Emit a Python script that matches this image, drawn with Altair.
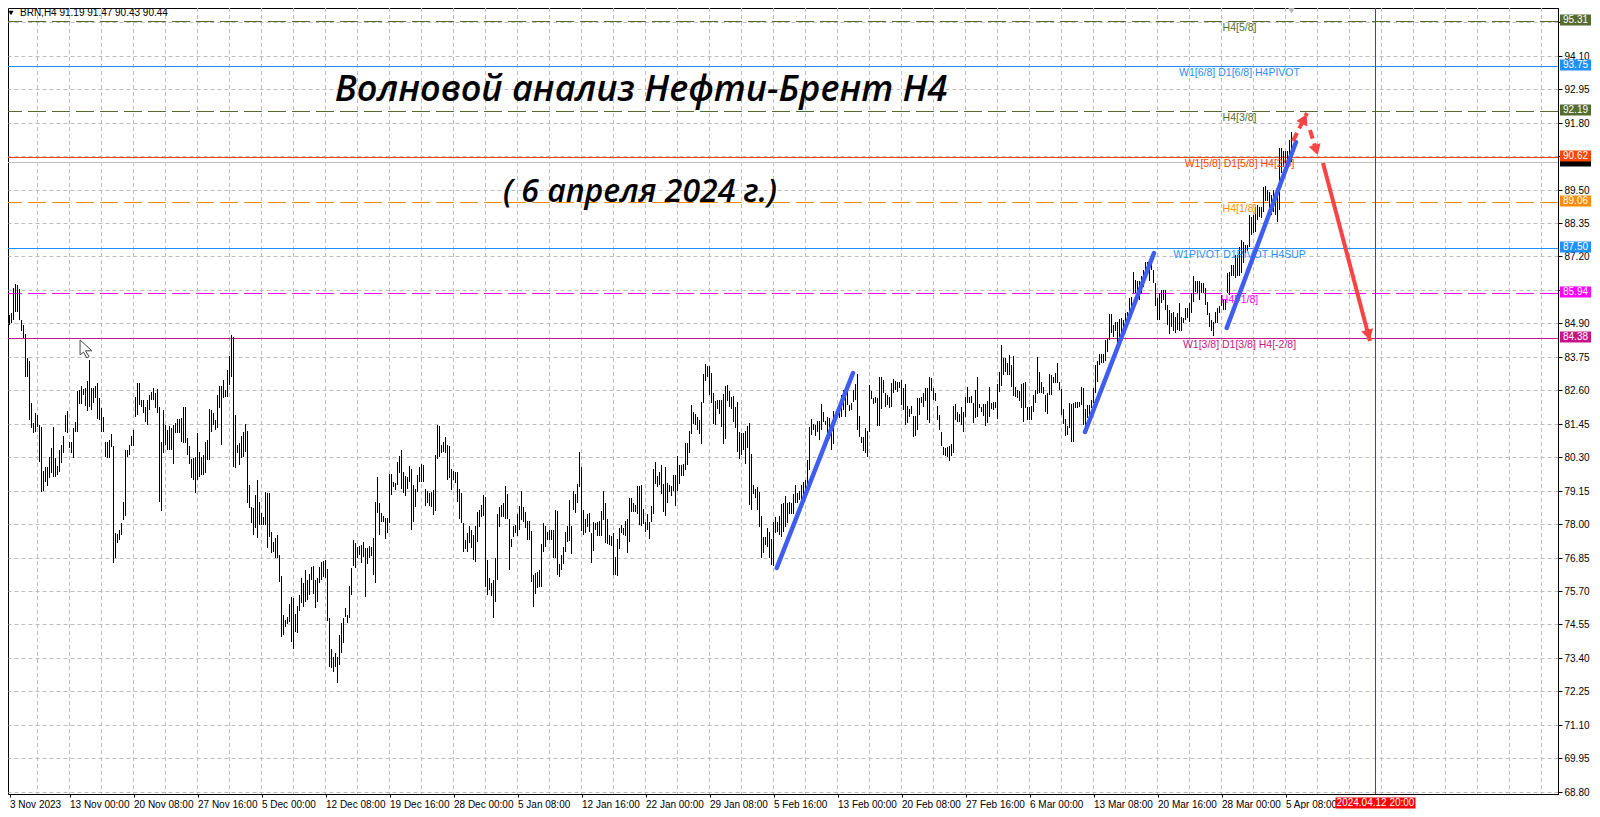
import altair as alt
import pandas as pd

high = [86.70,85.30,85.19,85.25,86.11,86.25,86.22,86.07,85.02,84.85,84.54,83.70,83.61,82.15,81.46,81.81,81.75,81.41,81.35,79.84,
79.97,79.95,80.32,80.61,81.33,80.26,80.00,80.55,80.72,81.03,81.75,81.87,80.83,80.83,81.29,81.52,82.58,82.61,82.75,82.63,
82.67,82.93,83.64,82.67,82.67,82.75,82.86,82.32,81.98,81.69,80.83,80.83,80.89,81.10,80.69,77.68,77.66,77.80,78.03,78.77,
80.55,80.55,80.72,81.01,81.24,82.38,82.84,82.84,82.27,82.27,82.04,82.27,82.44,82.55,82.67,82.50,82.63,82.04,80.83,81.92,
81.41,81.24,81.37,81.29,81.41,81.46,81.60,81.61,81.64,82.04,82.04,80.95,80.69,80.23,80.26,80.32,81.12,80.46,80.32,80.38,
80.83,80.89,81.95,81.92,81.81,81.58,82.44,82.75,82.73,82.95,82.61,83.30,83.76,84.50,84.42,81.75,80.72,80.78,81.01,81.18,
81.44,81.21,79.34,78.60,78.54,79.00,79.51,78.77,78.37,78.25,79.11,79.06,79.06,77.74,77.39,77.51,77.62,76.94,76.21,74.87,
74.70,74.82,75.25,75.48,75.45,74.91,75.18,75.56,76.13,75.99,76.42,76.08,76.28,76.54,76.56,76.08,76.13,76.51,76.71,76.74,
76.76,76.44,74.76,73.69,73.44,73.56,73.44,74.19,74.61,74.76,75.10,74.87,75.87,76.48,77.45,77.34,77.22,77.25,77.28,77.39,
77.17,77.19,77.25,77.22,77.51,78.77,79.61,78.71,78.37,78.28,78.20,78.20,79.72,79.72,79.46,79.42,80.15,80.34,80.56,79.80,
79.65,79.62,79.99,79.88,79.34,79.22,79.68,79.97,80.06,80.03,79.22,79.14,79.07,79.11,79.17,80.37,81.40,81.37,80.71,80.83,
80.98,80.71,80.68,79.88,79.82,79.78,79.78,79.19,79.07,78.02,77.45,77.68,77.93,77.81,77.62,77.93,78.42,78.48,78.65,78.99,
78.94,76.76,76.13,75.96,76.07,76.85,78.36,78.59,78.65,78.73,79.30,79.05,78.19,77.50,77.93,77.96,78.36,78.62,79.14,78.57,
78.42,78.11,78.11,77.76,76.24,76.32,76.36,76.42,77.31,78.02,77.93,77.73,77.81,77.79,77.81,78.50,78.44,76.64,76.93,77.22,
77.73,77.93,78.84,77.93,79.14,79.03,79.39,80.48,79.97,78.48,78.19,78.36,78.39,77.70,78.08,78.02,78.08,78.11,78.44,79.13,
78.73,78.17,77.62,77.58,77.68,76.87,77.48,77.85,77.96,77.85,78.11,78.19,78.90,78.88,78.71,78.67,79.30,79.30,79.34,78.51,
78.08,78.34,78.08,78.62,79.88,80.12,79.65,79.80,80.03,79.36,79.97,79.40,79.34,79.30,79.68,79.68,80.34,80.03,80.03,80.06,
80.77,80.79,81.20,82.09,81.84,81.78,81.69,81.57,82.18,83.15,83.49,83.43,83.44,83.20,82.52,82.23,82.26,82.26,82.26,82.46,
82.75,82.78,82.57,82.38,82.40,82.01,82.20,81.17,81.14,81.14,81.21,81.37,81.46,80.40,79.34,79.19,79.28,79.11,78.27,77.56,
77.56,77.85,77.73,77.47,78.08,78.23,78.08,78.27,78.69,78.71,78.96,78.71,78.77,78.71,79.05,79.34,79.08,79.14,79.34,79.45,
79.51,80.20,81.32,81.60,81.44,81.40,81.55,81.55,82.11,81.86,81.55,81.67,81.63,81.25,81.89,81.75,81.83,81.86,82.43,82.60,
82.38,82.63,82.09,82.15,82.60,82.83,83.15,81.71,81.00,80.98,81.29,81.20,82.78,82.57,82.32,82.38,82.32,83.04,83.04,82.95,
82.49,82.44,82.38,82.84,82.97,82.93,82.89,82.89,82.95,82.66,82.80,82.06,81.94,82.06,81.71,81.71,82.34,82.34,82.38,82.49,
82.66,82.66,83.07,83.01,82.66,82.52,82.06,81.75,81.17,80.66,80.60,80.66,80.68,80.75,82.06,82.13,81.86,81.80,82.03,81.86,
82.38,82.72,82.38,82.40,82.17,82.61,83.04,82.13,82.01,82.13,82.13,82.24,82.72,82.17,82.18,82.21,82.81,83.24,84.15,83.70,
83.70,83.52,83.81,83.47,83.78,82.70,82.61,82.58,82.81,82.84,82.89,82.03,82.01,82.06,82.44,82.61,83.75,83.24,82.89,82.72,
82.44,82.49,83.16,83.12,83.07,83.18,83.52,82.89,82.63,81.94,81.60,81.37,82.15,82.13,82.17,82.21,82.21,82.21,82.72,82.66,
81.94,82.10,82.10,82.27,82.67,83.47,83.59,83.85,83.85,83.85,84.33,84.35,85.22,85.22,84.85,84.96,84.93,85.04,85.08,85.02,
85.27,85.30,85.76,85.82,86.68,86.39,86.34,86.34,86.51,86.74,87.02,87.02,86.91,87.02,86.74,86.28,85.76,85.93,86.05,86.05,
86.05,85.53,85.36,85.27,85.30,85.13,85.25,85.59,85.13,85.08,85.42,85.42,85.59,85.93,86.51,86.34,86.34,86.34,86.28,86.28,
86.11,85.65,85.25,85.00,84.96,85.30,85.42,85.48,85.88,85.71,85.71,86.62,86.68,86.91,86.91,87.25,87.25,87.54,87.77,87.71,
87.60,87.60,88.63,88.57,88.63,88.91,88.97,88.91,88.89,89.60,89.62,89.49,89.43,89.32,89.49,89.14,89.49,90.92,90.92,90.84,
90.84,90.81,91.21,91.47]

low = [84.56,84.39,84.85,84.90,85.02,85.30,85.30,85.02,84.62,84.39,83.07,83.05,81.58,81.29,81.12,81.18,81.35,80.12,79.09,79.14,
79.46,79.31,79.57,79.75,79.63,79.63,79.69,79.80,80.09,80.43,81.18,81.12,80.61,80.43,80.26,81.18,81.18,82.12,82.12,82.44,
82.07,81.87,82.04,81.92,82.15,82.32,81.60,81.58,81.18,81.18,80.32,80.26,80.26,80.66,76.66,76.82,77.34,77.45,77.63,78.14,
78.26,80.32,80.38,80.69,80.69,81.69,81.75,82.09,82.04,81.81,81.52,81.41,81.92,82.27,82.27,81.98,81.81,78.77,78.46,80.43,
80.72,80.55,80.53,80.53,80.07,81.12,81.12,81.12,80.83,80.80,80.78,80.38,80.07,79.57,79.52,79.06,79.52,79.63,79.69,79.69,
79.75,80.20,80.20,81.18,81.41,81.24,81.29,81.98,80.72,82.32,82.36,82.38,82.78,83.07,79.97,79.92,80.43,80.03,80.26,80.32,
80.49,78.71,78.54,78.05,77.62,77.85,77.51,77.97,77.97,77.97,77.97,77.17,77.57,76.99,77.05,76.82,76.82,76.02,74.13,74.19,
74.45,74.56,74.64,73.96,73.69,74.30,74.27,75.02,75.27,75.16,75.33,75.39,75.56,76.08,75.60,75.10,75.33,75.96,76.08,76.19,
76.13,74.68,73.07,73.04,72.93,73.10,72.52,73.15,73.56,73.90,74.82,74.59,74.76,75.56,76.56,76.48,76.82,76.94,76.65,76.88,
75.50,76.63,76.82,76.90,76.25,75.96,78.37,77.62,78.08,78.08,77.47,77.68,78.02,79.00,79.29,79.17,79.34,79.74,79.22,79.07,
78.96,79.22,79.45,77.79,78.08,78.59,79.11,79.45,79.45,79.45,78.62,78.71,78.62,78.59,78.31,78.46,80.22,80.31,80.43,80.48,
80.43,79.53,79.57,79.17,79.51,79.42,78.76,78.19,78.02,77.05,77.13,77.05,77.36,77.16,76.76,76.70,77.39,77.91,78.25,78.27,
75.84,75.56,75.73,75.52,74.78,75.33,76.07,77.91,78.25,78.25,78.19,78.19,76.42,77.22,77.56,77.68,77.58,77.79,78.13,78.08,
77.85,77.45,77.45,76.01,75.15,75.61,75.79,75.82,75.84,77.05,77.22,77.45,77.45,77.45,76.85,76.85,76.24,76.19,76.42,76.64,
77.05,77.39,77.41,76.97,78.48,78.39,78.73,79.26,77.77,77.64,77.68,77.91,77.73,76.67,77.08,77.79,77.60,77.60,77.58,78.13,
77.36,77.33,77.27,77.24,76.24,76.24,76.22,77.13,77.68,77.62,77.58,77.01,77.39,78.42,78.42,78.42,78.36,77.96,77.94,78.00,
77.73,77.79,77.48,78.08,78.36,79.36,79.26,79.34,79.05,78.40,78.28,78.73,79.11,78.97,79.14,78.62,79.14,79.37,79.65,79.65,
79.85,80.03,80.45,81.11,81.44,81.40,81.23,81.09,80.75,82.15,82.93,83.06,82.43,82.15,81.44,81.40,81.94,81.80,81.32,80.75,
80.92,82.24,82.03,81.97,81.52,81.29,80.48,80.22,80.37,80.54,80.08,80.63,78.65,78.48,79.05,78.88,78.48,77.91,76.82,76.99,
77.28,77.22,76.85,76.59,76.55,77.70,77.73,77.62,77.54,77.73,77.91,78.02,78.36,78.36,78.36,78.71,78.71,78.82,78.77,78.94,
79.05,79.22,79.85,81.06,81.23,81.02,81.17,80.89,81.23,81.52,81.40,80.98,80.94,80.54,80.75,81.63,81.67,81.63,81.67,81.92,
81.69,82.09,81.89,81.92,82.20,82.26,81.23,81.00,80.77,80.52,80.45,80.32,81.17,82.29,82.13,82.17,81.38,81.38,81.95,82.49,
82.03,82.09,82.00,82.01,82.52,82.61,82.55,82.66,82.09,81.92,81.40,81.46,81.69,81.78,80.98,81.03,81.23,81.75,82.17,82.03,
82.24,81.58,81.46,82.58,82.26,82.24,81.58,81.23,80.68,80.37,80.34,80.32,80.18,80.34,80.43,81.58,81.52,81.52,81.40,81.17,
81.67,82.17,82.17,82.17,81.46,81.63,81.67,81.98,81.86,81.71,81.37,81.46,81.67,81.94,81.92,81.98,81.60,82.55,82.74,83.12,
83.24,83.12,83.12,82.70,82.40,82.38,82.32,82.24,81.98,81.52,81.98,81.58,81.58,81.58,81.86,82.15,82.47,82.49,82.49,82.47,
81.86,81.80,82.44,82.44,82.84,82.84,82.84,82.61,81.75,81.44,81.03,81.06,81.29,80.83,80.83,81.98,81.98,82.03,82.09,81.40,
81.12,81.64,81.69,81.98,82.15,82.50,82.90,83.47,83.53,83.53,83.59,83.93,84.33,84.56,84.44,84.62,84.22,84.39,84.44,84.67,
84.90,85.08,85.30,85.13,85.93,85.93,85.93,85.71,85.93,86.16,86.51,86.62,86.34,86.74,86.28,85.48,85.02,85.02,85.59,85.71,
85.36,84.85,84.54,84.79,84.62,84.58,84.67,84.62,84.62,84.90,85.02,85.08,84.96,85.25,85.65,85.96,85.93,85.71,85.93,85.93,
85.53,85.19,84.79,84.62,84.47,84.90,84.90,85.25,85.48,85.36,85.36,85.93,85.88,86.51,86.53,86.45,86.51,86.51,86.62,86.97,
87.31,87.37,87.54,87.94,88.00,88.05,88.46,88.55,88.51,88.74,89.09,89.09,88.80,88.63,88.74,88.63,88.40,88.80,90.06,90.29,
90.40,90.23,90.46,90.43]

n = min(len(high), len(low))
bar_index = list(range(n))

price_ticks = [95.25,94.10,92.95,91.80,90.65,89.50,88.35,87.20,86.05,84.90,83.75,82.60,81.45,80.30,79.15,78.00,76.85,75.70,74.55,73.40,72.25,71.10,69.95,68.80]
covered_price_ticks = [95.25,90.65,86.05]
time_ticks = ["3 Nov 2023","13 Nov 00:00","20 Nov 08:00","27 Nov 16:00","5 Dec 00:00","12 Dec 08:00","19 Dec 16:00","28 Dec 00:00","5 Jan 08:00","12 Jan 16:00","22 Jan 00:00","29 Jan 08:00","5 Feb 16:00","13 Feb 00:00","20 Feb 08:00","27 Feb 16:00","6 Mar 00:00","13 Mar 08:00","20 Mar 16:00","28 Mar 00:00","5 Apr 08:00"]
time_tick_pos = [2] + [32*k for k in range(1, len(time_ticks))]
grid_bars = list(range(16, 777, 16))

levels = [95.31,93.75,92.19,90.62,90.44,89.06,87.50,85.94,84.38]
level_col = ["#556B2F","#1E90FF","#556B2F","#FF4500","#C0C0C0","#FF8C00","#1E90FF","#FF00FF","#C71585"]
badge_col = ["#556B2F","#1E90FF","#556B2F","#FF4500","#000000","#FF8C00","#1E90FF","#FF00FF","#C71585"]
level_dash = [True,False,True,False,False,True,False,True,False]
level_text = ["H4[5/8]","W1[6/8] D1[6/8] H4PIVOT","H4[3/8]","W1[5/8] D1[5/8] H4[2/8]","","H4[1/8]","W1PIVOT D1PIVOT H4SUP","H4[-1/8]","W1[3/8] D1[3/8] H4[-2/8]"]

blue_a = [385.6,539.75,610.6]; blue_pa = [76.50,81.17,84.75]
blue_b = [423.75,574.25,645.25]; blue_pb = [83.19,87.31,91.14]
red_a = [643.75,652.25,658.75]; red_pa = [91.17,91.55,90.41]
red_b = [650.75,656.25,682.25]; red_pb = [92.13,90.65,84.29]
red_dashed = [True,True,False]
head_x = [649.4,655.35,681.5]; head_p = [91.94,90.85,84.49]; head_ang = [27,163,165]

FONT = "Liberation Sans"
xs = alt.Scale(domain=[1.25,776.25], nice=False, zero=False)
ys = alt.Scale(domain=[68.72,95.74], nice=False, zero=False, round=True)
time_labels_js = "[" + ",".join("'" + s + "'" for s in time_ticks) + "]"
covered_js = "[" + ",".join(str(v) for v in covered_price_ticks) + "]"
x_axis = alt.Axis(values=time_tick_pos, grid=False, domainColor="#000", tickColor="#000", tickSize=3,
        labelExpr=time_labels_js + "[round(datum.value/32)]", labelAlign="left", labelFont=FONT, labelFontSize=10, labelColor="#000",
        labelPadding=2, labelFlush=False, labelOverlap=False, title=None)
y_axis = alt.Axis(orient="right", values=price_ticks, grid=True, gridColor="#bdbdbd", gridDash=[4,3], gridWidth=1,
        labelExpr="indexof(" + covered_js + ",datum.value)>=0?'':format(datum.value,'.2f')",
        domainColor="#000", tickColor="#000", tickSize=4, labelFont=FONT, labelFontSize=10, labelColor="#000", labelPadding=2, labelOverlap=False, labelFlush=False, title=None)
X = lambda f: alt.X(f, scale=xs, axis=x_axis)
Y = lambda f: alt.Y(f, scale=ys, axis=y_axis)

bars_df = pd.DataFrame({"i": bar_index, "h": high[:n], "l": low[:n]})
lev_df = pd.DataFrame({"p": levels, "c": level_col, "b": badge_col, "d": level_dash, "t": level_text, "lab": [f"{v:.2f}" for v in levels], "i": [617]*len(levels)})

bars = alt.Chart(bars_df).mark_rule(color="#000000", strokeWidth=1).encode(x=X("i:Q"), y=Y("h:Q"), y2="l:Q")

vgrid = alt.Chart(pd.DataFrame({"i": grid_bars})).mark_rule(color="#bdbdbd", strokeDash=[4,3], strokeWidth=1).encode(x=X("i:Q"))

def level_rule(sub, dash):
    m = dict(strokeWidth=1, yOffset=0.5)
    if dash:
        m["strokeDash"] = [18,6]
    return alt.Chart(sub).mark_rule(**m).encode(y=Y("p:Q"), color=alt.Color("c:N", scale=None))

lines_solid = level_rule(lev_df[~lev_df.d], False)
lines_dash = level_rule(lev_df[lev_df.d], True)

level_labels = alt.Chart(lev_df[lev_df.t != ""]).mark_text(font=FONT, fontSize=10.5, dy=7, align="center").encode(
    x=X("i:Q"), y=Y("p:Q"), text="t:N", color=alt.Color("c:N", scale=None))

badges = alt.Chart(lev_df).mark_rect(width=31, height=11, yOffset=-1).encode(
    x=alt.value(1567.5), y=Y("p:Q"), color=alt.Color("b:N", scale=None), order=alt.Order("p:Q"))
badge_text = alt.Chart(lev_df[lev_df.b != "#000000"]).mark_text(font=FONT, fontSize=10, color="#ffffff", align="center", dy=-1).encode(
    x=alt.value(1567.5), y=Y("p:Q"), text="lab:N")

def segs(a, pa, b, pb, mask=None):
    rows = []
    for k in range(len(a)):
        if mask is None or mask[k]:
            rows.append({"k": k, "s": 0, "i": a[k], "p": pa[k]})
            rows.append({"k": k, "s": 1, "i": b[k], "p": pb[k]})
    return pd.DataFrame(rows)

blue = alt.Chart(segs(blue_a, blue_pa, blue_b, blue_pb)).mark_line(color="#3F5DF0", strokeWidth=4.5, strokeCap="round").encode(
    x=X("i:Q"), y=Y("p:Q"), detail="k:N", order="s:Q")
red_d = alt.Chart(segs(red_a, red_pa, red_b, red_pb, red_dashed)).mark_line(color="#F84444", strokeWidth=4, strokeDash=[9,5]).encode(
    x=X("i:Q"), y=Y("p:Q"), detail="k:N", order="s:Q")
red_s = alt.Chart(segs(red_a, red_pa, red_b, red_pb, [not v for v in red_dashed])).mark_line(color="#F84444", strokeWidth=4).encode(
    x=X("i:Q"), y=Y("p:Q"), detail="k:N", order="s:Q")
heads = alt.Chart(pd.DataFrame({"i": head_x, "p": head_p, "a": head_ang})).mark_point(shape="triangle-up", filled=True, color="#F84444", size=150, opacity=1).encode(
    x=X("i:Q"), y=Y("p:Q"), angle=alt.Angle("a:Q", scale=None))

future = alt.Chart(pd.DataFrame({"i": [685]})).mark_rule(color="#FF0000", strokeWidth=1).encode(x=X("i:Q"))
date_box = alt.Chart(pd.DataFrame({"i": [685]})).mark_rect(color="#FF0000", width=80, height=11).encode(x=X("i:Q"), y=alt.value(795))
date_text = alt.Chart(pd.DataFrame({"i": [685], "t": ["2024.04.12 20:00"]})).mark_text(font=FONT, fontSize=10, color="#ffffff").encode(x=X("i:Q"), y=alt.value(795), text="t:N")

head_df = pd.DataFrame({"i": [7.25], "p": [95.585], "t": ["BRN,H4  91.19 91.47 90.43 90.44"]})
head_txt = alt.Chart(head_df).mark_text(font=FONT, fontSize=10, align="left", color="#000").encode(x=X("i:Q"), y=Y("p:Q"), text="t:N")
head_tri = alt.Chart(pd.DataFrame({"i": [2.75], "p": [95.585]})).mark_point(shape="triangle-down", filled=True, color="#000", size=28, opacity=1).encode(x=X("i:Q"), y=Y("p:Q"))
top_tri = alt.Chart(pd.DataFrame({"i": [643], "p": [95.67]})).mark_point(shape="triangle-down", filled=True, color="#b5b5b5", size=70, opacity=1).encode(x=X("i:Q"), y=Y("p:Q"))

cursor_path = "M-0.33,-0.5 L-0.33,0.33 L-0.14,0.17 L0.05,0.5 L0.17,0.42 L-0.03,0.1 L0.33,0.1 Z"
cursor = alt.Chart(pd.DataFrame({"i": [40.25], "p": [84.03]})).mark_point(shape=cursor_path, size=1300, filled=True, fill="#ffffff", stroke="#444444", strokeWidth=1, opacity=1).encode(x=X("i:Q"), y=Y("p:Q"))

title_text = ["Волновой анализ Нефти-Брент Н4", "( 6 апреля 2024 г.)"]
title_i = [317.75, 317.25]
title_p = [92.92, 89.41]
title_size = [36, 32]

def title_layers():
    out = []
    for t, i, p, s in zip(title_text, title_i, title_p, title_size):
        out.append(alt.Chart(pd.DataFrame({"i": [i], "p": [p], "t": [t]})).mark_text(font="Open Sans", fontStyle="italic", fontWeight=600, fontSize=s, color="#000000", align="center").encode(
            x=X("i:Q"), y=Y("p:Q"), text="t:N"))
    return out

chart = alt.layer(vgrid, lines_solid, lines_dash, bars, level_labels, blue, red_d, red_s, heads, future,
                  *title_layers(),
                  head_txt, head_tri, top_tri, cursor, badges, badge_text, date_box, date_text
    ).properties(width=1550, height=786, autosize=alt.AutoSizeParams(type="none"),
                 padding={"left": 0, "top": 0, "right": 34, "bottom": 15}, background="#ffffff"
    ).configure_view(stroke="#000000", strokeWidth=1)

chart.save("out.html", embed_options={"renderer": "svg", "actions": False})
